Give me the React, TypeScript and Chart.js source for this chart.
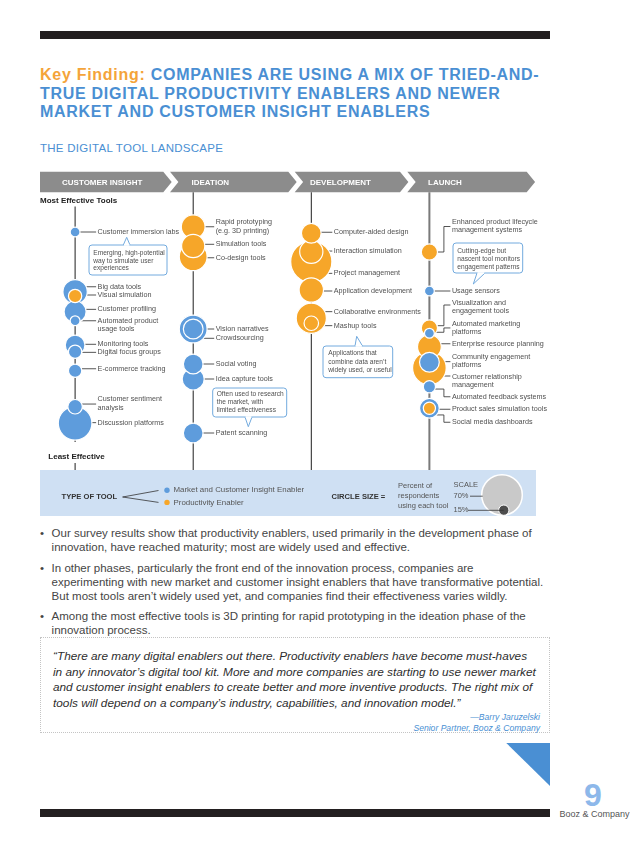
import React, { useEffect, useRef } from "react";
import { Chart, registerables } from "chart.js";

Chart.register(...registerables);

// ---------------- DATA ----------------
const STAGES = ["CUSTOMER INSIGHT", "IDEATION", "DEVELOPMENT", "LAUNCH"];

const TOOLS = [
  "Customer immersion labs",
  "Big data tools",
  "Visual simulation",
  "Customer profiling",
  "Automated product\nusage tools",
  "Monitoring tools",
  "Digital focus groups",
  "E-commerce tracking",
  "Customer sentiment\nanalysis",
  "Discussion platforms",
  "Rapid prototyping\n(e.g. 3D printing)",
  "Simulation tools",
  "Co-design tools",
  "Vision narratives",
  "Crowdsourcing",
  "Social voting",
  "Idea capture tools",
  "Patent scanning",
  "Computer-aided design",
  "Interaction simulation",
  "Project management",
  "Application development",
  "Collaborative environments",
  "Mashup tools",
  "Enhanced product lifecycle\nmanagement systems",
  "Usage sensors",
  "Visualization and\nengagement tools",
  "Automated marketing\nplatforms",
  "Enterprise resource planning",
  "Community engagement\nplatforms",
  "Customer relationship\nmanagement",
  "Automated feedback systems",
  "Product sales simulation tools",
  "Social media dashboards",
];

const TOOL_STAGE = [
  0, 0, 0, 0, 0, 0, 0, 0, 0, 0,
  1, 1, 1, 1, 1, 1, 1, 1,
  2, 2, 2, 2, 2, 2,
  3, 3, 3, 3, 3, 3, 3, 3, 3, 3,
];

// effectiveness (0 = least effective, 100 = most effective)
const EFFECTIVENESS = [
  89.2, 65.3, 63.6, 57.3, 53.7, 44.0, 41.3, 33.7, 19.3, 12.7,
  91.3, 83.6, 79.3, 50.4, 50.4, 36.4, 30.4, 8.8,
  88.7, 81.3, 77.3, 66.0, 54.7, 52.7,
  81.2, 65.6, 50.8, 48.7, 43.3, 37.1, 34.8, 27.3, 18.7, 18.7,
];

// percent of respondents using each tool
const USAGE_PCT = [
  17, 42, 23, 38, 17, 34, 23, 23, 25, 58,
  41, 40, 48, 48, 34, 34, 38, 34,
  34, 40, 71, 42, 52, 25,
  28, 17, 28, 17, 41, 34, 58, 21, 21, 34,
];

// M = Market and Customer Insight Enabler, P = Productivity Enabler
const TOOL_TYPE = [
  "M", "M", "P", "M", "M", "M", "M", "M", "M", "M",
  "P", "P", "P", "M", "M", "M", "M", "M",
  "P", "P", "P", "P", "P", "P",
  "P", "M", "P", "M", "P", "M", "P", "M", "P", "M",
];

const TYPE_NAMES = ["Market and Customer Insight Enabler", "Productivity Enabler"];
const SCALE_PCT = [70, 15];

// ---------------- LAYOUT / STYLE ----------------
const FONT = '"Liberation Sans", Arial, Helvetica, sans-serif';
const BLUE = "#5e9cdc";
const ORANGE = "#f6a629";
const HEADER_GRAY = "#8c8c8c";
const CALLOUT_BORDER = "#72aade";
const TEXT_BLUE = "#4a8fd3";
const R_PER_PCT = 0.29;
const OX = 40;
const OY = 166;
const X_MIN = -0.2972;
const X_MAX = 4.0212;

// [first text line dy, leader start dy, leader end dy] relative to bubble centre (px)
const LABEL_LAYOUT: number[][] = [
  [0, 0, 0], [-5, -5, -5], [-1, -1, -1], [-2.4, -2.4, -2.4], [0, 0, 0],
  [-0.7, -0.7, -0.7], [0.6, 0.6, 0.6], [-2, -2, -2], [-7.4, -2.7, -2.7], [-0.6, -0.6, -0.6],
  [-4.4, 0, 0], [-1.7, -1.7, -1.7], [1, 1, 1], [0, 0, 0], [9.3, 9.3, 9.3],
  [0, 0, 0], [0, 0, 0], [0, 0, 0],
  [-1, -1, -1], [-0.7, -0.7, -0.7], [11.6, 11.6, 11.6], [1, 1, 1], [-6.6, -6.6, -6.6], [2.4, 2.4, 2.4],
  [-29.7, 0, -25.5], [0, 0, 0], [-24.7, -2.3, -23], [-9.3, -1, -5.3], [-3, -3, -3],
  [-5.3, -0.6, -0.6], [8.7, 8, 8], [10, 2.3, 10], [1, 1, 1], [14, 6.7, 14],
];

const CALLOUTS = [
  { box: [89, 245, 167, 275], tip: [126.7, 237.3], base: [123.3, 130], up: true, tx: 93.3,
    lines: ["Emerging, high-potential", "way to simulate user", "experiences"], ly: [252.7, 260.7, 268.5] },
  { box: [212.7, 388, 286.7, 417], tip: [248.3, 426.7], base: [245, 252], up: false, tx: 216.7,
    lines: ["Often used to research", "the market, with", "limited effectiveness"], ly: [394.3, 402.3, 410.2] },
  { box: [323, 346, 392.7, 377.7], tip: [356.7, 336.3], base: [355, 362.5], up: true, tx: 328.3,
    lines: ["Applications that", "combine data aren\u2019t", "widely used, or useful"], ly: [353.5, 361.7, 370] },
  { box: [453, 243, 522.7, 273], tip: [473.3, 284], base: [477, 485], up: false, tx: 457.3,
    lines: ["Cutting-edge but", "nascent tool monitors", "engagement patterns"], ly: [250.7, 258.9, 266.9] },
];

function roundRect(ctx: CanvasRenderingContext2D, x0: number, y0: number, x1: number, y1: number, r: number) {
  ctx.beginPath();
  ctx.moveTo(x0 + r, y0);
  ctx.lineTo(x1 - r, y0);
  ctx.arcTo(x1, y0, x1, y0 + r, r);
  ctx.lineTo(x1, y1 - r);
  ctx.arcTo(x1, y1, x1 - r, y1, r);
  ctx.lineTo(x0 + r, y1);
  ctx.arcTo(x0, y1, x0, y1 - r, r);
  ctx.lineTo(x0, y0 + r);
  ctx.arcTo(x0, y0, x0 + r, y0, r);
  ctx.closePath();
}

const landscapePlugin = {
  id: "landscape",
  beforeDatasetsDraw(chart: any) {
    const ctx: CanvasRenderingContext2D = chart.ctx;
    const xs = chart.scales.x;
    const ys = chart.scales.y;
    ctx.save();
    ctx.translate(-OX, -OY);

    // header chevrons
    const bands: [number, number, boolean][] = [
      [40, 163.3, false], [170, 288.3, true], [294.7, 400, true], [407.3, 526.7, true],
    ];
    const top = 171.7, bot = 192.3, mid = 182, tip = 8.4;
    ctx.fillStyle = HEADER_GRAY;
    bands.forEach(([l, r, notch]) => {
      ctx.beginPath();
      ctx.moveTo(l, top);
      ctx.lineTo(r, top);
      ctx.lineTo(r + tip, mid);
      ctx.lineTo(r, bot);
      ctx.lineTo(l, bot);
      if (notch) ctx.lineTo(l + tip, mid);
      ctx.closePath();
      ctx.fill();
    });
    const headX = [62, 191.5, 310, 428];
    ctx.fillStyle = "#ffffff";
    ctx.font = `bold 8px ${FONT}`;
    ctx.textBaseline = "middle";
    ctx.textAlign = "left";
    STAGES.forEach((s, i) => ctx.fillText(s, headX[i], mid + 0.5));

    // column lines
    STAGES.forEach((_, s) => {
      const x = xs.getPixelForValue(s) + OX;
      ctx.strokeStyle = s === 3 ? "#7a7a7a" : "#1e1e1e";
      ctx.lineWidth = s === 3 ? 2 : 1;
      const segs = s === 0 ? [[206.5, 442], [463, 470]] : [[192.3, 470]];
      segs.forEach(([a, b]) => {
        ctx.beginPath();
        ctx.moveTo(x, a);
        ctx.lineTo(x, b);
        ctx.stroke();
      });
    });

    // leader lines
    ctx.strokeStyle = "#2a2a2a";
    ctx.lineWidth = 0.8;
    TOOLS.forEach((_, i) => {
      const cx = xs.getPixelForValue(TOOL_STAGE[i]) + OX;
      const cy = ys.getPixelForValue(EFFECTIVENESS[i]) + OY;
      const [, sdy, edy] = LABEL_LAYOUT[i];
      const lx = cx + 22.5;
      ctx.beginPath();
      ctx.moveTo(cx, cy + sdy);
      if (sdy === edy) {
        ctx.lineTo(lx - 1.5, cy + sdy);
      } else {
        ctx.lineTo(cx + 14.5, cy + sdy);
        ctx.lineTo(cx + 14.5, cy + edy);
        ctx.lineTo(lx - 1.5, cy + edy);
      }
      ctx.stroke();
    });

    // legend box
    ctx.fillStyle = "#cfe0f3";
    ctx.fillRect(40, 470, 496, 46);
    ctx.restore();
  },
  afterDatasetsDraw(chart: any) {
    const ctx: CanvasRenderingContext2D = chart.ctx;
    const xs = chart.scales.x;
    const ys = chart.scales.y;
    ctx.save();
    ctx.translate(-OX, -OY);
    ctx.textBaseline = "middle";
    ctx.textAlign = "left";

    // labels
    ctx.fillStyle = "#505050";
    ctx.font = `7.2px ${FONT}`;
    TOOLS.forEach((name, i) => {
      const cx = xs.getPixelForValue(TOOL_STAGE[i]) + OX;
      const cy = ys.getPixelForValue(EFFECTIVENESS[i]) + OY;
      const tdy = LABEL_LAYOUT[i][0];
      name.split("\n").forEach((t, k) => ctx.fillText(t, cx + 22.5, cy + tdy + k * 8.2));
    });

    // callouts
    CALLOUTS.forEach((c) => {
      const [x0, y0, x1, y1] = c.box;
      ctx.fillStyle = "#ffffff";
      ctx.strokeStyle = CALLOUT_BORDER;
      ctx.lineWidth = 1;
      roundRect(ctx, x0, y0, x1, y1, 3);
      ctx.fill();
      ctx.stroke();
      const by = c.up ? y0 : y1;
      ctx.beginPath();
      ctx.moveTo(c.base[0], by);
      ctx.lineTo(c.tip[0], c.tip[1]);
      ctx.lineTo(c.base[1], by);
      ctx.closePath();
      ctx.fill();
      ctx.beginPath();
      ctx.moveTo(c.base[0], by);
      ctx.lineTo(c.tip[0], c.tip[1]);
      ctx.lineTo(c.base[1], by);
      ctx.stroke();
      ctx.fillRect(c.base[0] + 0.6, by - 0.8, c.base[1] - c.base[0] - 1.2, 1.6);
      ctx.fillStyle = "#505050";
      ctx.font = `6.6px ${FONT}`;
      c.lines.forEach((t, k) => ctx.fillText(t, c.tx, c.ly[k]));
    });

    // axis captions
    ctx.fillStyle = "#222";
    ctx.font = `bold 8px ${FONT}`;
    ctx.fillText("Most Effective Tools", 40, 200.7);
    ctx.fillText("Least Effective", 48.3, 456.7);

    // legend contents
    ctx.font = `bold 7.6px ${FONT}`;
    ctx.fillStyle = "#333";
    ctx.fillText("TYPE OF TOOL", 61.6, 497.3);
    ctx.fillText("CIRCLE SIZE =", 331.5, 497.3);
    ctx.strokeStyle = "#333";
    ctx.lineWidth = 0.8;
    ctx.beginPath();
    ctx.moveTo(158.5, 490.5);
    ctx.lineTo(122.6, 497);
    ctx.lineTo(158.5, 502.4);
    ctx.stroke();
    const dots = [BLUE, ORANGE];
    const dotY = [490.2, 502.4];
    ctx.font = `7.9px ${FONT}`;
    TYPE_NAMES.forEach((n, k) => {
      ctx.fillStyle = dots[k];
      ctx.beginPath();
      ctx.arc(167, dotY[k], 2.7, 0, Math.PI * 2);
      ctx.fill();
      ctx.fillStyle = "#555";
      ctx.fillText(n, 173.5, dotY[k]);
    });
    ctx.font = `7.5px ${FONT}`;
    ctx.fillStyle = "#555";
    ["Percent of", "respondents", "using each tool"].forEach((t, k) => ctx.fillText(t, 398, 486 + k * 10.1));
    ctx.fillText("SCALE", 453.5, 485.2);
    ctx.fillText(`${SCALE_PCT[0]}%`, 453.5, 496.2);
    ctx.fillText(`${SCALE_PCT[1]}%`, 453.5, 510.3);
    const bigR = SCALE_PCT[0] * R_PER_PCT;
    const smallR = SCALE_PCT[1] * R_PER_PCT;
    const gx = 502, gy = 495;
    ctx.fillStyle = "#c9c9c9";
    ctx.strokeStyle = "#ffffff";
    ctx.lineWidth = 1.5;
    ctx.beginPath();
    ctx.arc(gx, gy, bigR, 0, Math.PI * 2);
    ctx.fill();
    ctx.stroke();
    const sy = gy + bigR - smallR - 0.8;
    ctx.fillStyle = "#4d4d4d";
    ctx.lineWidth = 1;
    ctx.beginPath();
    ctx.arc(gx + 1.8, sy, smallR + 0.8, 0, Math.PI * 2);
    ctx.fill();
    ctx.stroke();
    ctx.strokeStyle = "#333";
    ctx.lineWidth = 0.8;
    ctx.beginPath();
    ctx.moveTo(470, 496.2);
    ctx.lineTo(gx - bigR + 1, 496.2);
    ctx.moveTo(468, 510.3);
    ctx.lineTo(gx + 1.8, 510.3);
    ctx.stroke();

    ctx.restore();
  },
};

const ORDER = TOOLS.map((_, i) => i).sort((a, b) => USAGE_PCT[b] - USAGE_PCT[a]);

const abs = (l: number, t: number, extra: React.CSSProperties = {}): React.CSSProperties => ({
  position: "absolute",
  left: l,
  top: t,
  whiteSpace: "nowrap",
  ...extra,
});

export default function App() {
  const ref = useRef<HTMLCanvasElement>(null);

  useEffect(() => {
    if (!ref.current) return;
    const chart = new Chart(ref.current, {
      type: "bubble",
      data: {
        datasets: [
          {
            data: ORDER.map((i) => ({ x: TOOL_STAGE[i], y: EFFECTIVENESS[i], r: USAGE_PCT[i] * R_PER_PCT })),
            backgroundColor: ORDER.map((i) => (TOOL_TYPE[i] === "M" ? BLUE : ORANGE)),
            borderColor: "#ffffff",
            borderWidth: 1.2,
            hoverBorderWidth: 1.2,
            clip: false as any,
          },
        ],
      },
      options: {
        responsive: false,
        animation: false,
        events: [],
        layout: { autoPadding: false, padding: { top: 39, bottom: 67, left: 0, right: 0 } },
        scales: {
          x: { type: "linear", min: X_MIN, max: X_MAX, display: false },
          y: { type: "linear", min: 0, max: 100, display: false },
        },
        plugins: { legend: { display: false }, tooltip: { enabled: false } },
      },
      plugins: [landscapePlugin],
    });
    return () => chart.destroy();
  }, []);

  const body: React.CSSProperties = { fontSize: 11.5, color: "#454545", lineHeight: "14px" };
  const quote: React.CSSProperties = { fontSize: 11.8, fontStyle: "italic", color: "#2e2e2e", lineHeight: "15.5px" };

  return (
    <div style={{ position: "absolute", left: 0, top: 0, width: 638, height: 849, background: "#fff", fontFamily: FONT, overflow: "hidden" }}>
      <div style={abs(40, 31, { width: 510, height: 8, background: "#231f20" })} />

      <div style={abs(40, 66, { fontSize: 16, fontWeight: "bold", lineHeight: "18.6px", letterSpacing: "0.72px", color: TEXT_BLUE })}>
        <span style={{ color: "#f4a43a" }}>Key Finding: </span>COMPANIES ARE USING A MIX OF TRIED-AND-
        <br />
        TRUE DIGITAL PRODUCTIVITY ENABLERS AND NEWER
        <br />
        MARKET AND CUSTOMER INSIGHT ENABLERS
      </div>
      <div style={abs(40, 142, { fontSize: 11.5, color: TEXT_BLUE, lineHeight: "12px", letterSpacing: "0.27px" })}>THE DIGITAL TOOL LANDSCAPE</div>

      <canvas ref={ref} width={510} height={356} style={{ position: "absolute", left: OX, top: OY, width: 510, height: 356 }} />

      {[
        { t: 525.5, lines: ["Our survey results show that productivity enablers, used primarily in the development phase of", "innovation, have reached maturity; most are widely used and effective."] },
        { t: 560.8, lines: ["In other phases, particularly the front end of the innovation process, companies are", "experimenting with new market and customer insight enablers that have transformative potential.", "But most tools aren\u2019t widely used yet, and companies find their effectiveness varies wildly."] },
        { t: 609, lines: ["Among the most effective tools is 3D printing for rapid prototyping in the ideation phase of the", "innovation process."] },
      ].map((b, k) => (
        <React.Fragment key={k}>
          <div style={abs(40, b.t, body)}>{"\u2022"}</div>
          <div style={abs(51.6, b.t, body)}>
            {b.lines.map((l, j) => (
              <div key={j}>{l}</div>
            ))}
          </div>
        </React.Fragment>
      ))}

      <div style={abs(40, 636.7, { width: 510, height: 96, border: "1px dotted #c4c4c4", boxSizing: "border-box" })} />
      <div style={abs(53, 649.3, quote)}>
        <div>{"\u201cThere are many digital enablers out there. Productivity enablers have become must-haves"}</div>
        <div>{"in any innovator\u2019s digital tool kit. More and more companies are starting to use newer market"}</div>
        <div>{"and customer insight enablers to create better and more inventive products. The right mix of"}</div>
        <div>{"tools will depend on a company\u2019s industry, capabilities, and innovation model.\u201d"}</div>
      </div>
      <div style={abs(300, 711.5, { width: 240, textAlign: "right", fontSize: 8.6, fontStyle: "italic", color: TEXT_BLUE, lineHeight: "11.6px" })}>
        <div>{"\u2014Barry Jaruzelski"}</div>
        <div>Senior Partner, Booz &amp; Company</div>
      </div>

      <div style={abs(506, 742.7, { width: 44, height: 43.3, background: TEXT_BLUE, clipPath: "polygon(0 0, 100% 0, 100% 100%)" })} />
      <div style={abs(40, 809, { width: 510, height: 8, background: "#231f20" })} />
      <div style={abs(584, 778.8, { fontSize: 32, fontWeight: "bold", lineHeight: "32px", color: "#8db8ea" })}>9</div>
      <div style={abs(559.5, 809, { fontSize: 9, color: "#555", lineHeight: "11px" })}>Booz &amp; Company</div>
    </div>
  );
}
